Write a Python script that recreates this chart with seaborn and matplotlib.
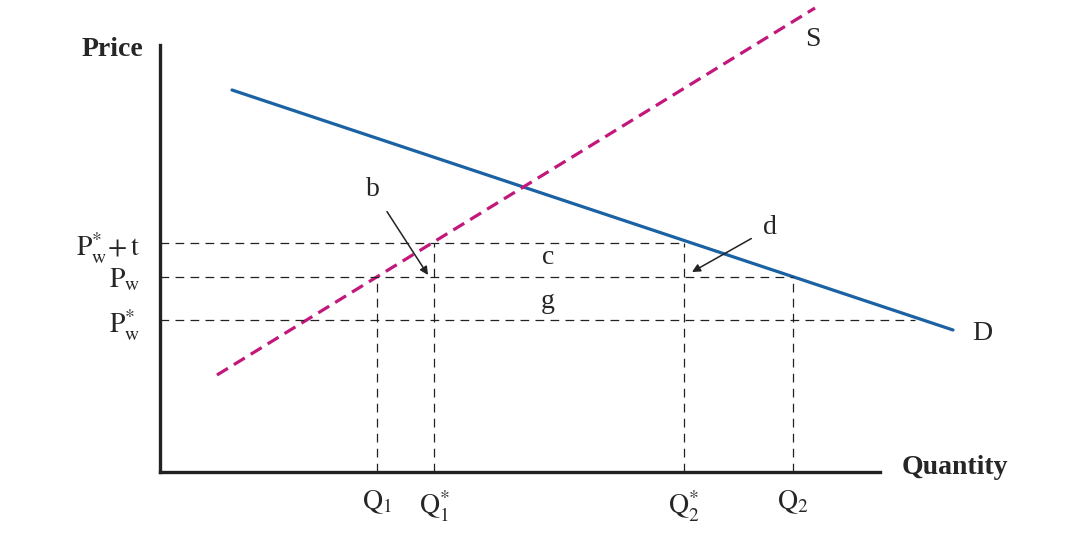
import numpy as np
import pandas as pd
import matplotlib
matplotlib.use("Agg")
import matplotlib.pyplot as plt
import seaborn as sns

sns.set_style("white")
plt.rcParams['font.family'] = ['Liberation Serif', 'DejaVu Serif']
plt.rcParams['mathtext.fontset'] = 'stix'

# curves (quantity, price) in diagram units
demand_q = [72, 793]
demand_p = [382, 142]
supply_q = [57, 655]
supply_p = [97, 464]

# price levels and quantities
price_names = [r'$\mathrm{P_w^{*}\!+ t}$', r'$\mathrm{P_w}$', r'$\mathrm{P_w^{*}}$']
price_vals = [229, 195, 152]
qty_names = [r'$\mathrm{Q_1}$', r'$\mathrm{Q_1^{*}}$', r'$\mathrm{Q_2^{*}}$', r'$\mathrm{Q_2}$']
qty_vals = [217, 274, 524, 633]
# how far each horizontal dashed line runs
price_ends = [524, 633, 755]
# height of each vertical dashed line
qty_tops = [195, 229, 229, 195]

blue = '#1a62a3'
magenta = '#c2177b'

fig = plt.figure(figsize=(10.92, 5.47), dpi=100)
ax = fig.add_axes([160/1092, 75/547, 720/1092, 427/547])

curves = pd.concat([
    pd.DataFrame({'q': demand_q, 'p': demand_p, 'curve': 'D'}),
    pd.DataFrame({'q': supply_q, 'p': supply_p, 'curve': 'S'}),
])
sns.lineplot(data=curves[curves.curve == 'D'], x='q', y='p', color=blue, lw=2.3,
             ax=ax, clip_on=False)
sns.lineplot(data=curves[curves.curve == 'S'], x='q', y='p', color=magenta, lw=2.3,
             ax=ax, clip_on=False, linestyle=(0, (4, 2.2)))

dash = dict(color='#222222', lw=0.9, linestyle=(0, (7, 5)), clip_on=False)
for p, end in zip(price_vals, price_ends):
    ax.plot([0, end], [p, p], **dash)
for q, top in zip(qty_vals, qty_tops):
    ax.plot([q, q], [0, top], **dash)

ax.set_xlim(0, 720)
ax.set_ylim(0, 427)
for s in ['top', 'right']:
    ax.spines[s].set_visible(False)
for s in ['left', 'bottom']:
    ax.spines[s].set_linewidth(2.4)
    ax.spines[s].set_color('#222222')

ax.set_yticks(price_vals)
ax.set_yticklabels(price_names, fontsize=20)
ax.set_xticks(qty_vals)
ax.set_xticklabels(qty_names, fontsize=20)
ax.tick_params(axis='y', length=0, pad=14)
ax.tick_params(axis='x', length=0, pad=12)
ax.set_xlabel('')
ax.set_ylabel('')

ax.text(-48, 422, 'Price', fontsize=20, fontweight='bold', ha='center', va='center')
ax.text(795, 5, 'Quantity', fontsize=20, fontweight='bold', ha='center', va='center')
ax.text(653, 432, 'S', fontsize=20, ha='center', va='center', clip_on=False)
ax.text(822, 139, 'D', fontsize=20, ha='center', va='center', clip_on=False)
ax.text(388, 214, 'c', fontsize=20, ha='center', va='center')
ax.text(388, 170, 'g', fontsize=20, ha='center', va='center')

ax.annotate('b', xy=(268, 197), xytext=(213, 282), fontsize=20, ha='center', va='center',
            arrowprops=dict(arrowstyle='-|>', color='#222222', lw=1.1, shrinkA=5, shrinkB=0,
                            mutation_scale=12))
ax.annotate('d', xy=(532, 200), xytext=(610, 244), fontsize=20, ha='center', va='center',
            arrowprops=dict(arrowstyle='-|>', color='#222222', lw=1.1, shrinkA=7, shrinkB=0,
                            mutation_scale=12))

fig.savefig('out.png', dpi=100)
